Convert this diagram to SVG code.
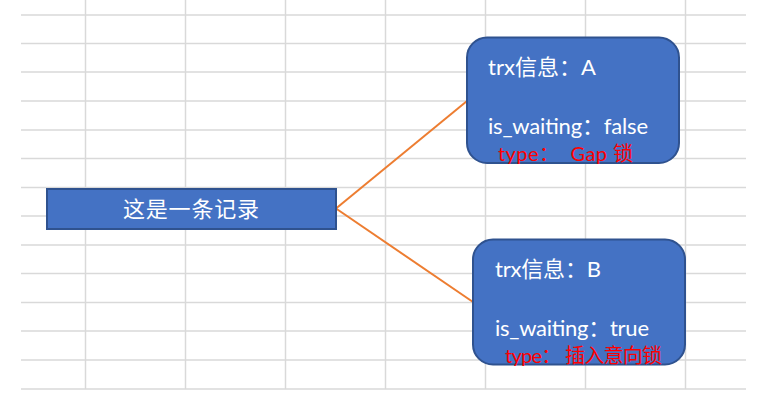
<svg xmlns="http://www.w3.org/2000/svg" width="781" height="407" viewBox="0 0 781 407">
<style>
.grid line{stroke:#d9d9d9;stroke-width:1.5}
.node{fill:#4472C4;stroke:#2F528F;stroke-width:2}
.wt{fill:#ffffff;font-family:"Lato","Noto Sans CJK SC",sans-serif;font-size:22px}
.rt{fill:#ff0000;font-family:"Lato","Noto Sans CJK SC",sans-serif;font-size:20px}
.edge{stroke:#ED7D31;stroke-width:2;fill:none}
</style>
<rect width="781" height="407" fill="#ffffff"/>
<g class="grid">
<line x1="21" y1="15" x2="746" y2="15"/>
<line x1="21" y1="43.5" x2="746" y2="43.5"/>
<line x1="21" y1="72" x2="746" y2="72"/>
<line x1="21" y1="101" x2="746" y2="101"/>
<line x1="21" y1="130" x2="746" y2="130"/>
<line x1="21" y1="158.5" x2="746" y2="158.5"/>
<line x1="21" y1="187.5" x2="746" y2="187.5"/>
<line x1="21" y1="216" x2="746" y2="216"/>
<line x1="21" y1="245" x2="746" y2="245"/>
<line x1="21" y1="273.5" x2="746" y2="273.5"/>
<line x1="21" y1="302.5" x2="746" y2="302.5"/>
<line x1="21" y1="331" x2="746" y2="331"/>
<line x1="21" y1="360" x2="746" y2="360"/>
<line x1="21" y1="389" x2="746" y2="389"/>
<line x1="85.5" y1="0" x2="85.5" y2="389"/>
<line x1="185.5" y1="0" x2="185.5" y2="389"/>
<line x1="285.5" y1="0" x2="285.5" y2="389"/>
<line x1="385.5" y1="0" x2="385.5" y2="389"/>
<line x1="485.5" y1="0" x2="485.5" y2="389"/>
<line x1="585.5" y1="0" x2="585.5" y2="389"/>
<line x1="685.5" y1="0" x2="685.5" y2="389"/>
</g>
<g id="connectors">
<line class="edge" x1="336" y1="208.5" x2="467" y2="101"/>
<line class="edge" x1="336" y1="208.5" x2="473" y2="302"/>
</g>
<g id="record">
<rect class="node" x="47" y="189" width="289" height="40"/>
<text class="wt" x="191" y="217" text-anchor="middle" font-size="22" textLength="136">这是一条记录</text>
</g>
<g id="trxA">
<rect class="node" x="467" y="37.5" width="212" height="125.5" rx="20" ry="20"/>
<text class="wt" x="488" y="75" textLength="108">trx信息：A</text>
<text class="wt" x="488" y="134" textLength="160">is_waiting：false</text>
<text class="rt" x="498" y="161" textLength="135" xml:space="preserve">type：  Gap 锁</text>
</g>
<g id="trxB">
<rect class="node" x="473" y="239.5" width="212" height="125" rx="20" ry="20"/>
<text class="wt" x="495" y="277" textLength="106">trx信息：B</text>
<text class="wt" x="495" y="336" textLength="154">is_waiting：true</text>
<text class="rt" x="505" y="363" textLength="157" xml:space="preserve">type： 插入意向锁</text>
</g>
</svg>
